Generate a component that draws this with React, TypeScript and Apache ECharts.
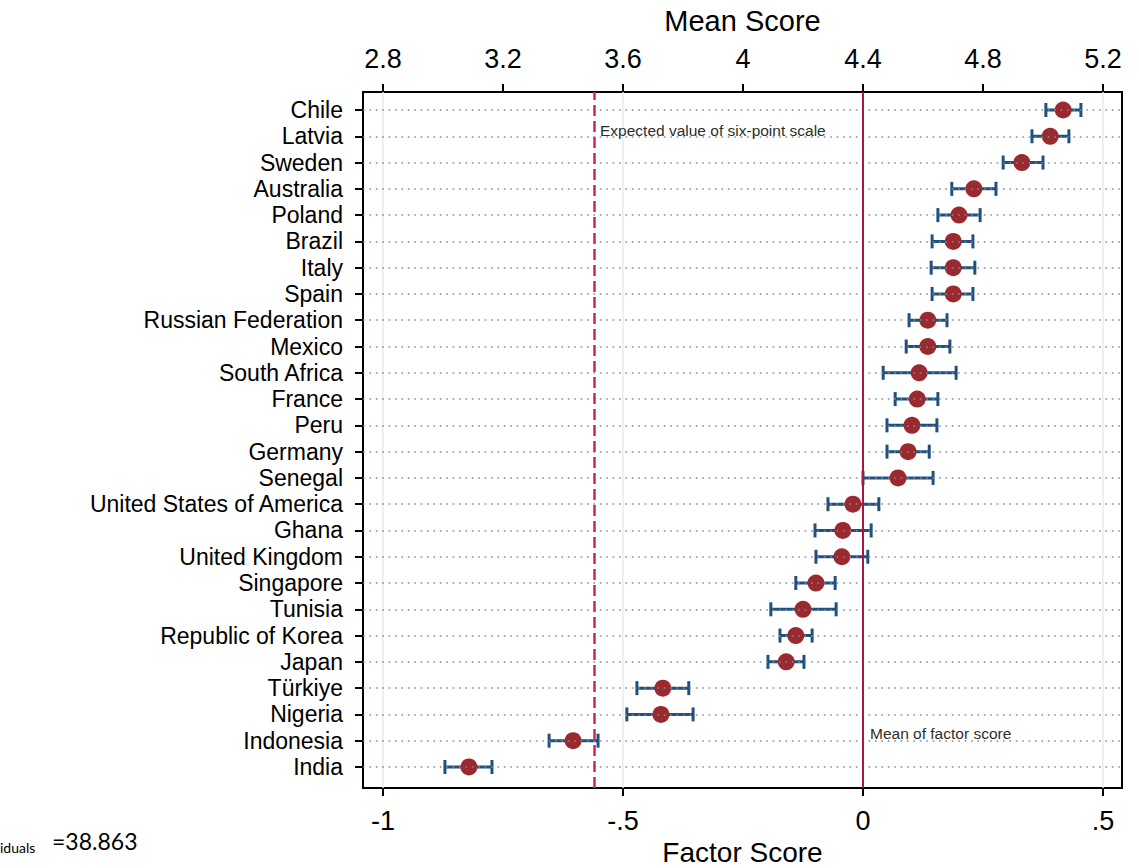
import React, { useEffect, useRef } from "react";
import * as echarts from "echarts";

// Countries, top to bottom
const countries = [
  "Chile", "Latvia", "Sweden", "Australia", "Poland", "Brazil", "Italy", "Spain",
  "Russian Federation", "Mexico", "South Africa", "France", "Peru", "Germany", "Senegal",
  "United States of America", "Ghana", "United Kingdom", "Singapore", "Tunisia",
  "Republic of Korea", "Japan", "Türkiye", "Nigeria", "Indonesia", "India",
];

// Factor score point estimates and 95% confidence bounds
const factorScore = [
  0.417, 0.39, 0.331, 0.231, 0.2, 0.188, 0.188, 0.188,
  0.135, 0.135, 0.117, 0.113, 0.102, 0.094, 0.073,
  -0.021, -0.042, -0.044, -0.098, -0.125,
  -0.14, -0.16, -0.417, -0.421, -0.604, -0.821,
];
const ciLow = [
  0.381, 0.352, 0.292, 0.185, 0.156, 0.144, 0.142, 0.144,
  0.096, 0.09, 0.042, 0.067, 0.05, 0.05, 0.0,
  -0.073, -0.1, -0.098, -0.14, -0.192,
  -0.173, -0.198, -0.471, -0.492, -0.654, -0.871,
];
const ciHigh = [
  0.454, 0.429, 0.375, 0.277, 0.244, 0.229, 0.233, 0.229,
  0.175, 0.181, 0.194, 0.156, 0.154, 0.138, 0.146,
  0.033, 0.017, 0.01, -0.058, -0.056,
  -0.106, -0.123, -0.363, -0.354, -0.552, -0.773,
];

// Axis ticks
const factorTicks = [-1, -0.5, 0, 0.5];
const factorTickLabels = ["-1", "-.5", "0", ".5"];
const meanTicks = [2.8, 3.2, 3.6, 4, 4.4, 4.8, 5.2];
const meanTickLabels = ["2.8", "3.2", "3.6", "4", "4.4", "4.8", "5.2"];

// Reference values
const meanOfFactorScore = 0;
const expectedSixPointValue = 3.5;

// Mean score = 4.4 + 1.6 * factor score
const MEAN_AT_ZERO = 4.4;
const MEAN_PER_FACTOR = 1.6;
const toMean = (f: number) => MEAN_AT_ZERO + MEAN_PER_FACTOR * f;
const toFactor = (m: number) => (m - MEAN_AT_ZERO) / MEAN_PER_FACTOR;

const X_MIN = -1.0417;
const X_MAX = 0.5396;
const Y_MIN = -0.8;
const Y_MAX = 25.685;

const FONT = "'Liberation Sans', Arial, Helvetica, sans-serif";

export default function App() {
  const ref = useRef<HTMLDivElement>(null);

  useEffect(() => {
    if (!ref.current) return;
    const chart = echarts.init(ref.current, undefined, { renderer: "svg" });
    const n = countries.length;
    const rowOf = (i: number) => n - 1 - i;
    const rowValues = countries.map((_, i) => rowOf(i));

    const labelFor = (v: number, ticks: number[], labels: string[]) => {
      const k = ticks.findIndex((t) => Math.abs(t - v) < 1e-6);
      return k >= 0 ? labels[k] : "";
    };

    const axisLine = { show: true, onZero: false, lineStyle: { color: "#000", width: 2 } };
    const tickStyle = { show: true, inside: false, length: 8, lineStyle: { color: "#000", width: 2 } };

    chart.setOption({
      animation: false,
      backgroundColor: "#fff",
      grid: {
        left: 363,
        right: 17,
        top: 92,
        bottom: 80,
        containLabel: false,
        outerBoundsMode: "none",
        show: true,
        borderColor: "#000",
        borderWidth: 2,
        backgroundColor: "#fff",
      },
      xAxis: [
        {
          type: "value",
          position: "bottom",
          min: X_MIN,
          max: X_MAX,
          axisLine,
          splitLine: { show: false },
          axisTick: { ...tickStyle, customValues: factorTicks },
          axisLabel: {
            customValues: factorTicks,
            formatter: (v: number) => labelFor(v, factorTicks, factorTickLabels),
            showMinLabel: true,
            showMaxLabel: true,
            fontFamily: FONT,
            fontSize: 27,
            color: "#000",
            margin: 19,
          },
          name: "Factor Score",
          nameLocation: "middle",
          nameGap: 46,
          nameTextStyle: { fontFamily: FONT, fontSize: 28, color: "#000" },
        },
        {
          type: "value",
          position: "top",
          min: toMean(X_MIN),
          max: toMean(X_MAX),
          axisLine,
          splitLine: { show: false },
          axisTick: { ...tickStyle, customValues: meanTicks },
          axisLabel: {
            customValues: meanTicks,
            formatter: (v: number) => labelFor(v, meanTicks, meanTickLabels),
            showMinLabel: true,
            showMaxLabel: true,
            fontFamily: FONT,
            fontSize: 27,
            color: "#000",
            margin: 20,
          },
          name: "Mean Score",
          nameLocation: "middle",
          nameGap: 57,
          nameTextStyle: { fontFamily: FONT, fontSize: 29, color: "#000" },
        },
      ],
      yAxis: {
        type: "value",
        min: Y_MIN,
        max: Y_MAX,
        axisLine,
        splitLine: { show: false },
        axisTick: { ...tickStyle, customValues: rowValues },
        axisLabel: {
          customValues: rowValues,
          formatter: (v: number) => countries[n - 1 - Math.round(v)] ?? "",
          showMinLabel: true,
          showMaxLabel: true,
          hideOverlap: false,
          fontFamily: FONT,
          fontSize: 23,
          color: "#000",
          margin: 20,
        },
      },
      series: [
        {
          // guide lines: light verticals, dotted rows, reference lines
          type: "line",
          xAxisIndex: 0,
          data: [],
          z: 1,
          silent: true,
          markLine: {
            silent: true,
            symbol: ["none", "none"],
            label: { show: false },
            animation: false,
            data: [
              ...factorTicks.map((t) => ({
                xAxis: t,
                lineStyle: { color: "#e2eeee", width: 1.5, type: "solid" },
              })),
              ...rowValues.map((r) => ({
                yAxis: r,
                lineStyle: { color: "#7f8c99", width: 1.6, type: [1.6, 4.8] },
              })),
              {
                xAxis: toFactor(expectedSixPointValue),
                lineStyle: { color: "#d3245a", width: 2.5, type: [11, 5] },
              },
              {
                xAxis: meanOfFactorScore,
                lineStyle: { color: "#a8173f", width: 2, type: "solid" },
              },
            ],
          },
        },
        {
          // confidence intervals with end caps
          type: "custom",
          xAxisIndex: 0,
          z: 2,
          data: countries.map((_, i) => [ciLow[i], ciHigh[i], rowOf(i)]),
          encode: { x: [0, 1], y: 2 },
          renderItem: (_params: any, api: any) => {
            const lo = api.coord([api.value(0), api.value(2)]);
            const hi = api.coord([api.value(1), api.value(2)]);
            const cap = 7;
            const style = { stroke: "#22507e", lineWidth: 3 };
            return {
              type: "group",
              children: [
                { type: "line", shape: { x1: lo[0], y1: lo[1], x2: hi[0], y2: hi[1] }, style },
                { type: "line", shape: { x1: lo[0], y1: lo[1] - cap, x2: lo[0], y2: lo[1] + cap }, style },
                { type: "line", shape: { x1: hi[0], y1: hi[1] - cap, x2: hi[0], y2: hi[1] + cap }, style },
              ],
            };
          },
        },
        {
          type: "scatter",
          xAxisIndex: 0,
          z: 3,
          symbol: "circle",
          symbolSize: 17,
          itemStyle: { color: "#9b2a30", opacity: 1 },
          data: countries.map((_, i) => [factorScore[i], rowOf(i)]),
        },
      ],
      graphic: [
        {
          type: "text",
          left: 600,
          top: 122,
          style: { text: "Expected value of six-point scale", font: `15.5px ${FONT}`, fill: "#2e2e2e" },
          z: 10,
        },
        {
          type: "text",
          left: 870,
          top: 725,
          style: { text: "Mean of factor score", font: `15.5px ${FONT}`, fill: "#2e2e2e" },
          z: 10,
        },
        {
          type: "text",
          left: 0,
          top: 840,
          style: { text: "iduals", font: "14px Lato, 'Noto Sans', sans-serif", fill: "#000" },
        },
        {
          type: "text",
          left: 52,
          top: 829,
          style: { text: "=38.863", font: "23px Lato, 'Noto Sans', sans-serif", fill: "#000" },
        },
      ],
    });

    return () => chart.dispose();
  }, []);

  return (
    <div
      ref={ref}
      style={{ position: "absolute", left: 0, top: 0, width: 1139, height: 868 }}
    />
  );
}
